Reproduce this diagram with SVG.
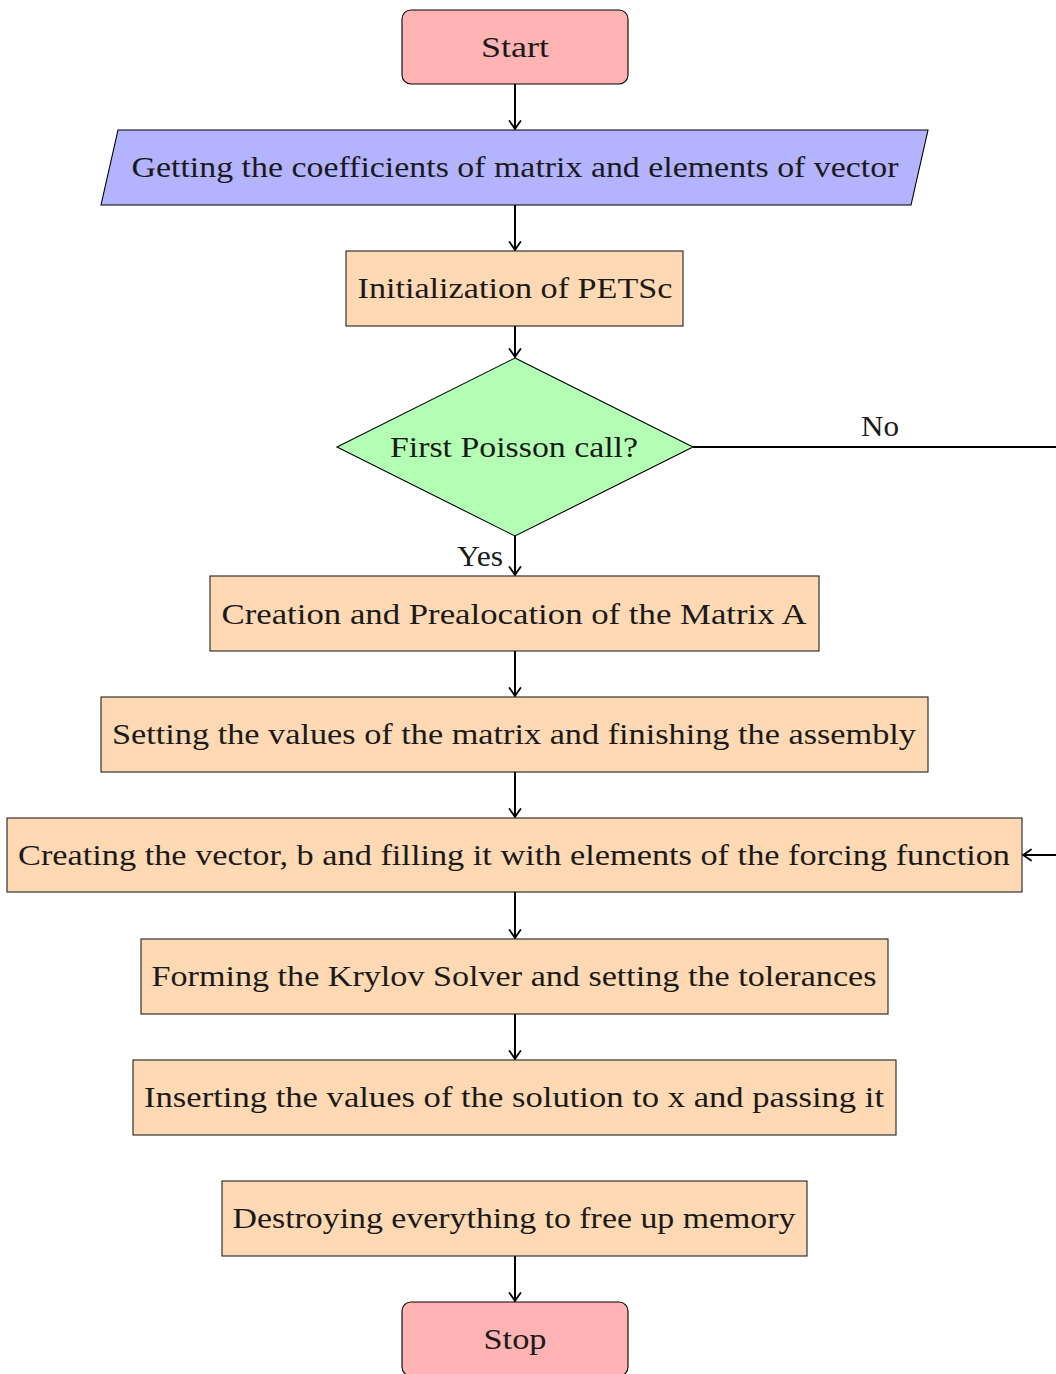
<svg xmlns="http://www.w3.org/2000/svg" width="1056" height="1374" viewBox="0 0 1056 1374">
  <style>
    text { font-family: 'Liberation Serif', 'Times New Roman', 'DejaVu Serif', serif; font-size: 29px; fill: #1a1a1a; text-anchor: middle; }
    .term { fill: #ffb3b3; stroke: #000; stroke-width: 1.1; }
    .io { fill: #b3b3ff; stroke: #000; stroke-width: 1.1; }
    .proc { fill: #ffd9b3; stroke: #222; stroke-width: 1.1; }
    .dec { fill: #b3ffb3; stroke: #000; stroke-width: 1.1; }
    .edge { fill: none; stroke: #000; stroke-width: 2; }
  </style>
  <defs>
    <marker id="tip" viewBox="-10 -7 12 14" refX="0" refY="0" markerWidth="12" markerHeight="14" markerUnits="userSpaceOnUse" orient="auto">
      <path d="M -8 -5.5 Q -2 -1.2 0 0 Q -2 1.2 -8 5.5" fill="none" stroke="#000" stroke-width="1.8" stroke-linecap="round"/>
    </marker>
  </defs>

  <rect width="1056" height="1374" fill="#fff"/>

  <!-- connectors -->
  <g id="connectors" font-family="'Liberation Serif', serif">
    <line class="edge" x1="515" y1="84" x2="515" y2="129" marker-end="url(#tip)"/>
    <line class="edge" x1="515" y1="205" x2="515" y2="250" marker-end="url(#tip)"/>
    <line class="edge" x1="515" y1="326" x2="515" y2="357" marker-end="url(#tip)"/>
    <line class="edge" x1="515" y1="536" x2="515" y2="575" marker-end="url(#tip)"/>
    <line class="edge" x1="515" y1="651" x2="515" y2="696" marker-end="url(#tip)"/>
    <line class="edge" x1="515" y1="772" x2="515" y2="817" marker-end="url(#tip)"/>
    <line class="edge" x1="515" y1="892" x2="515" y2="938" marker-end="url(#tip)"/>
    <line class="edge" x1="515" y1="1014" x2="515" y2="1059" marker-end="url(#tip)"/>
    <line class="edge" x1="515" y1="1256" x2="515" y2="1301" marker-end="url(#tip)"/>
    <line class="edge" x1="693" y1="447" x2="1056" y2="447"/>
    <line class="edge" x1="1056" y1="855" x2="1023" y2="855" marker-end="url(#tip)"/>
    <text x="880" y="436" textLength="38" lengthAdjust="spacingAndGlyphs">No</text>
    <text x="480" y="566" textLength="46" lengthAdjust="spacingAndGlyphs">Yes</text>
  </g>

  <g id="start">
    <rect class="term" x="402" y="10" width="226" height="74" rx="9"/>
    <text x="515" y="57" textLength="68" lengthAdjust="spacingAndGlyphs">Start</text>
  </g>

  <g id="input">
    <polygon class="io" points="118,130 928,130 911,205 101,205"/>
    <text x="515" y="177" textLength="767" lengthAdjust="spacingAndGlyphs">Getting the coefficients of matrix and elements of vector</text>
  </g>

  <g id="init">
    <rect class="proc" x="346" y="251" width="337" height="75"/>
    <text x="515" y="298" textLength="315" lengthAdjust="spacingAndGlyphs">Initialization of PETSc</text>
  </g>

  <g id="decision">
    <polygon class="dec" points="515,358 693,447 515,536 337,447"/>
    <text x="514" y="457" textLength="248" lengthAdjust="spacingAndGlyphs">First Poisson call?</text>
  </g>

  <g id="create-matrix">
    <rect class="proc" x="210" y="576" width="609" height="75"/>
    <text x="514" y="624" textLength="585" lengthAdjust="spacingAndGlyphs">Creation and Prealocation of the Matrix A</text>
  </g>

  <g id="set-matrix">
    <rect class="proc" x="101" y="697" width="827" height="75"/>
    <text x="514" y="744" textLength="804" lengthAdjust="spacingAndGlyphs">Setting the values of the matrix and finishing the assembly</text>
  </g>

  <g id="create-vector">
    <rect class="proc" x="7" y="818" width="1015" height="74"/>
    <text x="514" y="865" textLength="992" lengthAdjust="spacingAndGlyphs">Creating the vector, b and filling it with elements of the forcing function</text>
  </g>

  <g id="solver">
    <rect class="proc" x="141" y="939" width="747" height="75"/>
    <text x="514" y="986" textLength="725" lengthAdjust="spacingAndGlyphs">Forming the Krylov Solver and setting the tolerances</text>
  </g>

  <g id="insert">
    <rect class="proc" x="133" y="1060" width="763" height="75"/>
    <text x="514" y="1107" textLength="740" lengthAdjust="spacingAndGlyphs">Inserting the values of the solution to x and passing it</text>
  </g>

  <g id="destroy">
    <rect class="proc" x="222" y="1181" width="585" height="75"/>
    <text x="514" y="1228" textLength="563" lengthAdjust="spacingAndGlyphs">Destroying everything to free up memory</text>
  </g>

  <g id="stop">
    <rect class="term" x="402" y="1302" width="226" height="74" rx="9"/>
    <text x="515" y="1349" textLength="63" lengthAdjust="spacingAndGlyphs">Stop</text>
  </g>
</svg>
